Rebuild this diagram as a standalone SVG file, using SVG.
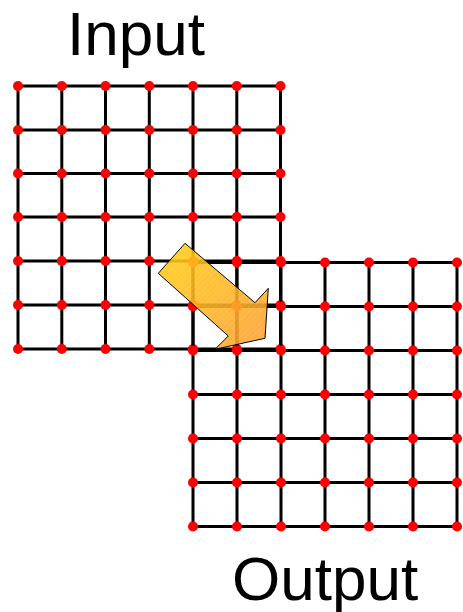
<svg xmlns="http://www.w3.org/2000/svg" width="463" height="612" viewBox="0 0 463 612">
  <style>
    .ln { stroke: #000; stroke-width: 3; fill: none; }
    .dot { fill: #ff0000; }
    .lbl { font-family: "Liberation Sans", Arial, sans-serif; font-size: 62px; fill: #000; }
  </style>
  <defs>
    <linearGradient id="ag" x1="0" y1="0" x2="1" y2="1">
      <stop offset="0" stop-color="#ffd010"/>
      <stop offset="1" stop-color="#ff9c30"/>
    </linearGradient>
    <pattern id="hatch" width="4" height="4" patternUnits="userSpaceOnUse" patternTransform="rotate(45)">
      <line x1="0" y1="0" x2="0" y2="4" stroke="#ffffff" stroke-opacity="0.18" stroke-width="1"/>
    </pattern>
  </defs>
  <rect width="463" height="612" fill="#fff"/>

  <g id="input-grid">
    <path class="ln" d="M18,86H281M18,130H281M18,173.5H281M18,217H281M18,261H281M18,305H281M18,349H281
      M18,86V349M61.8,86V349M105.5,86V349M149.3,86V349M193,86V349M236.8,86V349M280.5,86V349"/>
    <g class="dot">
      <circle cx="18" cy="86" r="5"/><circle cx="61.8" cy="86" r="5"/><circle cx="105.5" cy="86" r="5"/><circle cx="149.3" cy="86" r="5"/><circle cx="193" cy="86" r="5"/><circle cx="236.8" cy="86" r="5"/><circle cx="280.5" cy="86" r="5"/>
      <circle cx="18" cy="130" r="5"/><circle cx="61.8" cy="130" r="5"/><circle cx="105.5" cy="130" r="5"/><circle cx="149.3" cy="130" r="5"/><circle cx="193" cy="130" r="5"/><circle cx="236.8" cy="130" r="5"/><circle cx="280.5" cy="130" r="5"/>
      <circle cx="18" cy="173.5" r="5"/><circle cx="61.8" cy="173.5" r="5"/><circle cx="105.5" cy="173.5" r="5"/><circle cx="149.3" cy="173.5" r="5"/><circle cx="193" cy="173.5" r="5"/><circle cx="236.8" cy="173.5" r="5"/><circle cx="280.5" cy="173.5" r="5"/>
      <circle cx="18" cy="217" r="5"/><circle cx="61.8" cy="217" r="5"/><circle cx="105.5" cy="217" r="5"/><circle cx="149.3" cy="217" r="5"/><circle cx="193" cy="217" r="5"/><circle cx="236.8" cy="217" r="5"/><circle cx="280.5" cy="217" r="5"/>
      <circle cx="18" cy="261" r="5"/><circle cx="61.8" cy="261" r="5"/><circle cx="105.5" cy="261" r="5"/><circle cx="149.3" cy="261" r="5"/><circle cx="193" cy="261" r="5"/><circle cx="236.8" cy="261" r="5"/><circle cx="280.5" cy="261" r="5"/>
      <circle cx="18" cy="305" r="5"/><circle cx="61.8" cy="305" r="5"/><circle cx="105.5" cy="305" r="5"/><circle cx="149.3" cy="305" r="5"/><circle cx="193" cy="305" r="5"/><circle cx="236.8" cy="305" r="5"/><circle cx="280.5" cy="305" r="5"/>
      <circle cx="18" cy="349" r="5"/><circle cx="61.8" cy="349" r="5"/><circle cx="105.5" cy="349" r="5"/><circle cx="149.3" cy="349" r="5"/><circle cx="193" cy="349" r="5"/><circle cx="236.8" cy="349" r="5"/><circle cx="280.5" cy="349" r="5"/>
    </g>
  </g>

  <g id="output-grid">
    <path class="ln" d="M193,262.5H457M193,306.5H457M193,350.5H457M193,394.5H457M193,438.5H457M193,482.5H457M193,526.5H457
      M193,262.5V526.5M237,262.5V526.5M281,262.5V526.5M325,262.5V526.5M369,262.5V526.5M413,262.5V526.5M457,262.5V526.5"/>
    <g class="dot">
      <circle cx="193" cy="262.5" r="5"/><circle cx="237" cy="262.5" r="5"/><circle cx="281" cy="262.5" r="5"/><circle cx="325" cy="262.5" r="5"/><circle cx="369" cy="262.5" r="5"/><circle cx="413" cy="262.5" r="5"/><circle cx="457" cy="262.5" r="5"/>
      <circle cx="193" cy="306.5" r="5"/><circle cx="237" cy="306.5" r="5"/><circle cx="281" cy="306.5" r="5"/><circle cx="325" cy="306.5" r="5"/><circle cx="369" cy="306.5" r="5"/><circle cx="413" cy="306.5" r="5"/><circle cx="457" cy="306.5" r="5"/>
      <circle cx="193" cy="350.5" r="5"/><circle cx="237" cy="350.5" r="5"/><circle cx="281" cy="350.5" r="5"/><circle cx="325" cy="350.5" r="5"/><circle cx="369" cy="350.5" r="5"/><circle cx="413" cy="350.5" r="5"/><circle cx="457" cy="350.5" r="5"/>
      <circle cx="193" cy="394.5" r="5"/><circle cx="237" cy="394.5" r="5"/><circle cx="281" cy="394.5" r="5"/><circle cx="325" cy="394.5" r="5"/><circle cx="369" cy="394.5" r="5"/><circle cx="413" cy="394.5" r="5"/><circle cx="457" cy="394.5" r="5"/>
      <circle cx="193" cy="438.5" r="5"/><circle cx="237" cy="438.5" r="5"/><circle cx="281" cy="438.5" r="5"/><circle cx="325" cy="438.5" r="5"/><circle cx="369" cy="438.5" r="5"/><circle cx="413" cy="438.5" r="5"/><circle cx="457" cy="438.5" r="5"/>
      <circle cx="193" cy="482.5" r="5"/><circle cx="237" cy="482.5" r="5"/><circle cx="281" cy="482.5" r="5"/><circle cx="325" cy="482.5" r="5"/><circle cx="369" cy="482.5" r="5"/><circle cx="413" cy="482.5" r="5"/><circle cx="457" cy="482.5" r="5"/>
      <circle cx="193" cy="526.5" r="5"/><circle cx="237" cy="526.5" r="5"/><circle cx="281" cy="526.5" r="5"/><circle cx="325" cy="526.5" r="5"/><circle cx="369" cy="526.5" r="5"/><circle cx="413" cy="526.5" r="5"/><circle cx="457" cy="526.5" r="5"/>
    </g>
  </g>

  <g id="connectors">
    <g id="arrow">
      <polygon points="185,243.3 158.3,273.3 228.3,336 215,349.3 265,338.3 268.3,288.3 255,302.7" fill="url(#ag)" fill-opacity="0.88" stroke="#000" stroke-width="1" stroke-linejoin="miter"/>
      <polygon points="185,243.3 158.3,273.3 228.3,336 215,349.3 265,338.3 268.3,288.3 255,302.7" fill="url(#hatch)"/>
    </g>
  </g>

  <g id="label-input"><text class="lbl" x="67" y="55">Input</text></g>
  <g id="label-output"><text class="lbl" x="232" y="600">Output</text></g>
</svg>
